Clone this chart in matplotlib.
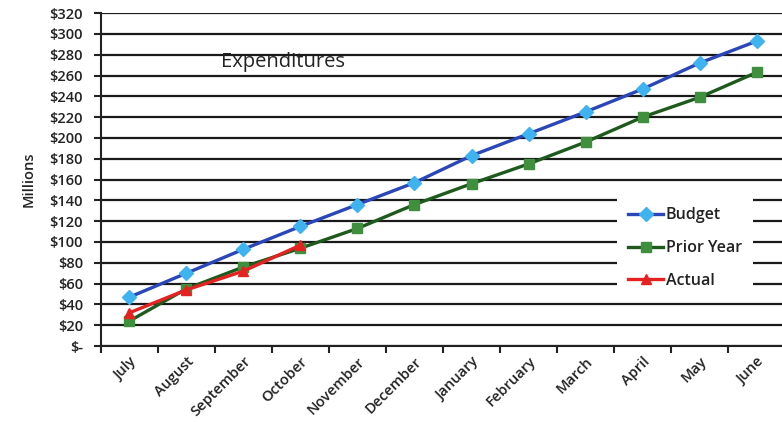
import matplotlib

matplotlib.use("Agg")
import matplotlib.pyplot as plt  # noqa: E402

months = ["July", "August", "September", "October", "November", "December",
          "January", "February", "March", "April", "May", "June"]
budget = [47, 70, 93, 115, 136, 157, 183, 204, 225, 247, 272, 293]
prior_year = [24, 55, 76, 94, 113, 136, 156, 175, 196, 220, 239, 263]
actual = [32, 54, 72, 97]
y_ticks = list(range(0, 321, 20))
y_labels = ["$-"] + [f"${v}" for v in y_ticks[1:]]

plt.rcParams["font.family"] = ["Open Sans", "DejaVu Sans"]

fig = plt.figure(figsize=(7.82, 4.22), dpi=100)
ax = fig.add_axes([0.129, 0.180, 0.875, 0.789])

x = list(range(len(months)))
ax.plot(x, budget, color="#2a46b8", lw=2.4, marker="D", ms=7,
        mfc="#3fb2f0", mec="#3fb2f0", label="Budget", zorder=3)
ax.plot(x, prior_year, color="#1e5a1e", lw=2.4, marker="s", ms=6.5,
        mfc="#3f8f3f", mec="#3f8f3f", label="Prior Year", zorder=3)
ax.plot(x[:len(actual)], actual, color="#e52222", lw=2.4, marker="^", ms=7.5,
        mfc="#e52222", mec="#e52222", label="Actual", zorder=4)

ax.set_xlim(-0.5, len(months) - 0.5)
ax.set_ylim(0, 320)
ax.set_yticks(y_ticks)
ax.set_yticklabels(y_labels, fontsize=10.5, fontweight="semibold", color="#222222")
ax.set_xticks([i - 0.5 for i in x] + [len(months) - 0.5])
ax.set_xticklabels([])
ax.set_xticks(x, minor=True)
ax.set_xticklabels(months, minor=True, rotation=45, ha="right",
                   rotation_mode="anchor", fontsize=10.5, fontweight="semibold",
                   color="#222222")
ax.tick_params(axis="x", which="minor", length=0, pad=6)
ax.tick_params(axis="x", which="major", length=5, width=1.5, color="#222222")
ax.tick_params(axis="y", length=5, width=1.5, color="#222222", pad=8)

ax.grid(axis="y", color="#1a1a1a", lw=1.6, zorder=1)
ax.set_axisbelow(True)
for side in ["top", "right"]:
    ax.spines[side].set_visible(False)
ax.spines["left"].set_linewidth(1.5)
ax.spines["bottom"].set_linewidth(1.5)
ax.spines["left"].set_color("#222222")
ax.spines["bottom"].set_color("#222222")

ax.set_ylabel("Millions", fontsize=10.5, fontweight="semibold", color="#222222",
              labelpad=10)

fig.text(283 / 782, 1 - 62 / 422, "Expenditures", fontsize=14.5,
         ha="center", va="center", color="#222222")

leg = ax.legend(loc="center", bbox_to_anchor=(0.876, 0.412),
                bbox_transform=fig.transFigure, fontsize=11.5,
                frameon=True, facecolor="white", edgecolor="none",
                framealpha=1, labelspacing=1.05, handlelength=2.2,
                handletextpad=0.15, borderpad=0.7, borderaxespad=0)
for t in leg.get_texts():
    t.set_fontweight("semibold")
    t.set_color("#222222")

fig.savefig("out.png", dpi=100)
